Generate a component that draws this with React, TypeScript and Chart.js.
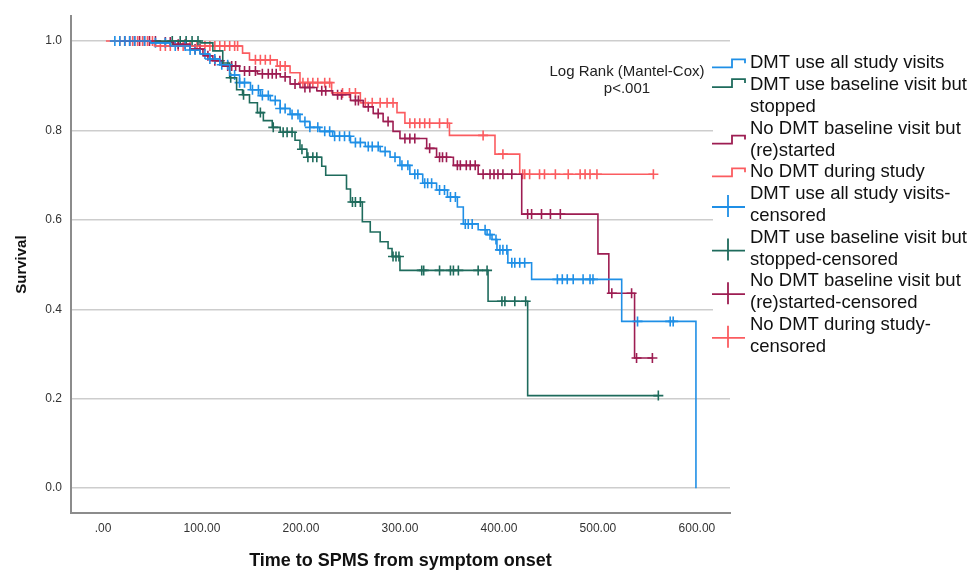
import { useEffect, useRef } from "react";
import { Chart, registerables } from "chart.js";

Chart.register(...registerables);

const FONT = "'Liberation Sans', Arial, sans-serif";

// Axis ticks
const xTicks = [0, 100, 200, 300, 400, 500, 600];
const yTicks = [0, 0.2, 0.4, 0.6, 0.8, 1.0];

// Group 1: DMT use all study visits
const blueTimes = [7, 48, 68, 88, 98, 108, 118, 128, 138, 149, 159, 169, 179, 189, 199, 209, 219, 232, 250, 265, 280, 290, 300, 310, 323, 337, 348, 358, 364, 379, 388, 393, 398, 409, 433, 524, 599];
const blueSurv = [1.0, 0.996, 0.989, 0.98, 0.971, 0.96, 0.947, 0.924, 0.907, 0.891, 0.878, 0.867, 0.849, 0.836, 0.82, 0.807, 0.798, 0.787, 0.773, 0.764, 0.753, 0.74, 0.722, 0.702, 0.682, 0.667, 0.651, 0.629, 0.591, 0.578, 0.567, 0.556, 0.533, 0.504, 0.467, 0.373, 0.0];
const blueCensor = [12, 17, 22, 27, 32, 42, 53, 63, 73, 83, 88, 93, 103, 108, 113, 120, 126, 133, 138, 143, 151, 157, 161, 167, 174, 179, 184, 191, 197, 204, 209, 217, 224, 229, 234, 239, 244, 249, 255, 260, 268, 272, 278, 285, 295, 302, 308, 315, 318, 325, 328, 332, 340, 345, 351, 356, 366, 369, 373, 386, 391, 397, 401, 404, 408, 413, 416, 421, 426, 459, 464, 469, 475, 485, 492, 495, 540, 573, 576];

// Group 2: DMT use baseline visit but stopped
const greenTimes = [52, 98, 111, 121, 128, 135, 141, 148, 156, 162, 171, 179, 194, 199, 206, 221, 225, 246, 250, 262, 270, 280, 288, 292, 300, 389, 429];
const greenSurv = [1.0, 0.996, 0.978, 0.951, 0.918, 0.891, 0.88, 0.862, 0.84, 0.822, 0.807, 0.796, 0.778, 0.758, 0.74, 0.72, 0.7, 0.669, 0.64, 0.596, 0.573, 0.551, 0.536, 0.518, 0.487, 0.418, 0.207];
const greenCensor = [70, 78, 84, 90, 96, 129, 142, 159, 172, 182, 186, 191, 201, 207, 212, 216, 252, 255, 260, 293, 296, 299, 322, 324, 340, 351, 354, 359, 379, 388, 403, 406, 416, 427, 561];

// Group 3: No DMT baseline visit but (re)started
const maroonTimes = [17, 58, 71, 88, 101, 111, 121, 138, 156, 179, 189, 199, 216, 232, 250, 263, 273, 283, 293, 300, 327, 337, 354, 379, 423, 500, 511, 537];
const maroonSurv = [1.0, 0.998, 0.993, 0.982, 0.967, 0.956, 0.944, 0.933, 0.927, 0.92, 0.904, 0.896, 0.889, 0.88, 0.867, 0.853, 0.838, 0.82, 0.798, 0.782, 0.76, 0.74, 0.722, 0.702, 0.613, 0.524, 0.436, 0.291];
const maroonCensor = [22, 27, 32, 37, 42, 47, 53, 63, 68, 76, 83, 93, 98, 106, 113, 118, 126, 130, 134, 143, 148, 154, 161, 167, 171, 175, 184, 194, 204, 209, 221, 225, 237, 241, 255, 258, 268, 278, 288, 305, 310, 315, 330, 340, 343, 347, 358, 361, 367, 371, 376, 384, 391, 395, 399, 404, 413, 429, 433, 443, 452, 462, 514, 534, 539, 555];

// Group 4: No DMT during study
const redTimes = [3, 52, 141, 148, 176, 189, 199, 231, 260, 297, 305, 350, 396, 421];
const redSurv = [1.0, 0.989, 0.973, 0.958, 0.944, 0.929, 0.907, 0.884, 0.862, 0.84, 0.816, 0.789, 0.747, 0.702];
const redCensor = [17, 30, 35, 40, 45, 50, 58, 63, 68, 76, 81, 88, 95, 103, 108, 113, 118, 123, 128, 133, 136, 154, 159, 164, 169, 179, 184, 202, 207, 212, 217, 224, 229, 242, 249, 255, 265, 272, 280, 287, 293, 310, 315, 320, 325, 330, 340, 348, 384, 404, 424, 426, 431, 441, 446, 457, 470, 482, 487, 492, 499, 556];

const groupColors = ["#1f8fe6", "#1e6b5c", "#9d1d52", "#fb5c60"];

const legendEntries: { lines: string[]; kind: "step" | "cross"; color: number }[] = [
  { lines: ["DMT use all study visits"], kind: "step", color: 0 },
  { lines: ["DMT use baseline visit but", "stopped"], kind: "step", color: 1 },
  { lines: ["No DMT baseline visit but", "(re)started"], kind: "step", color: 2 },
  { lines: ["No DMT during study"], kind: "step", color: 3 },
  { lines: ["DMT use all study visits-", "censored"], kind: "cross", color: 0 },
  { lines: ["DMT use baseline visit but", "stopped-censored"], kind: "cross", color: 1 },
  { lines: ["No DMT baseline visit but", "(re)started-censored"], kind: "cross", color: 2 },
  { lines: ["No DMT during study-", "censored"], kind: "cross", color: 3 },
];

const testLines = ["Log Rank (Mantel-Cox)", "p<.001"];

function survAt(times: number[], surv: number[], t: number) {
  let s = surv[0];
  for (let i = 0; i < times.length; i++) if (times[i] <= t) s = surv[i];
  return s;
}

function curvePoints(times: number[], surv: number[], censor: number[]) {
  const pts = times.map((t, i) => ({ x: t, y: surv[i] }));
  const lastC = Math.max(...censor);
  if (lastC > times[times.length - 1]) pts.push({ x: lastC, y: surv[surv.length - 1] });
  return pts;
}

function censorPoints(times: number[], surv: number[], censor: number[]) {
  return censor.map((t) => ({ x: t, y: survAt(times, surv, t) }));
}

const groups = [
  { times: blueTimes, surv: blueSurv, censor: blueCensor },
  { times: greenTimes, surv: greenSurv, censor: greenCensor },
  { times: maroonTimes, surv: maroonSurv, censor: maroonCensor },
  { times: redTimes, surv: redSurv, censor: redCensor },
];

const legendPlugin = {
  id: "kmLegend",
  afterDraw(chart: any) {
    const ctx = chart.ctx as CanvasRenderingContext2D;
    const area = chart.chartArea;
    const boxLeft = area.right - 17;
    ctx.save();
    // Test annotation
    ctx.fillStyle = "#222";
    ctx.font = `15px ${FONT}`;
    ctx.textAlign = "center";
    ctx.textBaseline = "middle";
    const tx = area.right - 103;
    testLines.forEach((l, i) => ctx.fillText(l, tx, 72 + i * 16.5));

    // Legend box
    ctx.fillStyle = "#ffffff";
    ctx.fillRect(boxLeft, 46, chart.width - boxLeft, 316);
    const lh = 21.8;
    let lineIdx = 0;
    const firstY = 63.3;
    const iconL = boxLeft - 1;
    const iconR = boxLeft + 32;
    const textX = boxLeft + 37;
    ctx.font = `18.5px ${FONT}`;
    ctx.textAlign = "left";
    legendEntries.forEach((e, idx) => {
      const y0 = firstY + lineIdx * lh;
      const yN = firstY + (lineIdx + e.lines.length - 1) * lh;
      let cy = (y0 + yN) / 2;
      if (idx === 1) cy = y0 - 2;
      const col = groupColors[e.color];
      ctx.strokeStyle = col;
      ctx.lineWidth = 1.8;
      ctx.beginPath();
      if (e.kind === "step") {
        const mid = iconL + 20;
        ctx.moveTo(iconL, cy + 4);
        ctx.lineTo(mid, cy + 4);
        ctx.lineTo(mid, cy - 4);
        ctx.lineTo(iconR, cy - 4);
        ctx.lineTo(iconR, cy);
      } else {
        const vx = iconL + 16;
        ctx.moveTo(iconL, cy + 2);
        ctx.lineTo(iconR, cy + 2);
        ctx.moveTo(vx, cy - 10);
        ctx.lineTo(vx, cy + 12);
      }
      ctx.stroke();
      ctx.fillStyle = "#111";
      e.lines.forEach((l, k) => ctx.fillText(l, textX, y0 + k * lh));
      lineIdx += e.lines.length;
    });
    ctx.restore();
  },
};

export default function App() {
  const ref = useRef<HTMLCanvasElement | null>(null);
  useEffect(() => {
    if (!ref.current) return;
    const lineSets = groups.map((g, i) => ({
      type: "line" as const,
      data: curvePoints(g.times, g.surv, g.censor),
      borderColor: groupColors[i],
      backgroundColor: groupColors[i],
      borderWidth: 1.6,
      stepped: true,
      pointRadius: 0,
      fill: false,
      showLine: true,
    }));
    const censorSets = groups.map((g, i) => ({
      type: "scatter" as const,
      data: censorPoints(g.times, g.surv, g.censor),
      borderColor: groupColors[i],
      backgroundColor: groupColors[i],
      pointStyle: "cross",
      pointRadius: 5,
      pointBorderWidth: 1.6,
      showLine: false,
    }));
    const chart = new Chart(ref.current, {
      type: "scatter",
      data: { datasets: [...lineSets, ...censorSets] as any },
      options: {
        animation: false,
        responsive: true,
        maintainAspectRatio: false,
        layout: { padding: { left: 0, right: 241, top: 13, bottom: 0 } },
        plugins: { legend: { display: false }, tooltip: { enabled: false } },
        scales: {
          x: {
            type: "linear",
            min: -32.3,
            max: 633.4,
            afterBuildTicks: (s: any) => {
              s.ticks = xTicks.map((v) => ({ value: v }));
            },
            afterFit: (s: any) => {
              s.height = 57;
            },
            grid: { display: false, drawTicks: false },
            border: { display: true, color: "#8c8c8c", width: 2 },
            ticks: {
              padding: 8,
              color: "#333",
              font: { family: FONT, size: 12 },
              maxRotation: 0,
              autoSkip: false,
              callback: (v: any) => (Number(v) === 0 ? ".00" : Number(v).toFixed(2)),
            },
            title: {
              display: true,
              text: "Time to SPMS from symptom onset",
              color: "#111",
              font: { family: FONT, size: 18, weight: "bold", lineHeight: 1 },
              padding: 0,
            },
          },
          y: {
            type: "linear",
            min: -0.0556,
            max: 1.0556,
            afterBuildTicks: (s: any) => {
              s.ticks = yTicks.map((v) => ({ value: v }));
            },
            afterFit: (s: any) => {
              s.width = 71;
            },
            grid: { color: "#cdcdcd", lineWidth: 1.5, drawTicks: false },
            border: { display: true, color: "#8c8c8c", width: 2 },
            ticks: {
              padding: 9,
              color: "#333",
              font: { family: FONT, size: 12 },
              callback: (v: any) => Number(v).toFixed(1),
            },
            title: {
              display: true,
              text: "Survival",
              color: "#111",
              font: { family: FONT, size: 15, weight: "bold", lineHeight: 1 },
              padding: { top: 14, bottom: 0 },
            },
          },
        },
      },
      plugins: [legendPlugin],
    });
    return () => chart.destroy();
  }, []);
  return (
    <div style={{ position: "fixed", left: 0, top: 0, width: 971, height: 570, background: "#fff" }}>
      <canvas ref={ref} />
    </div>
  );
}
